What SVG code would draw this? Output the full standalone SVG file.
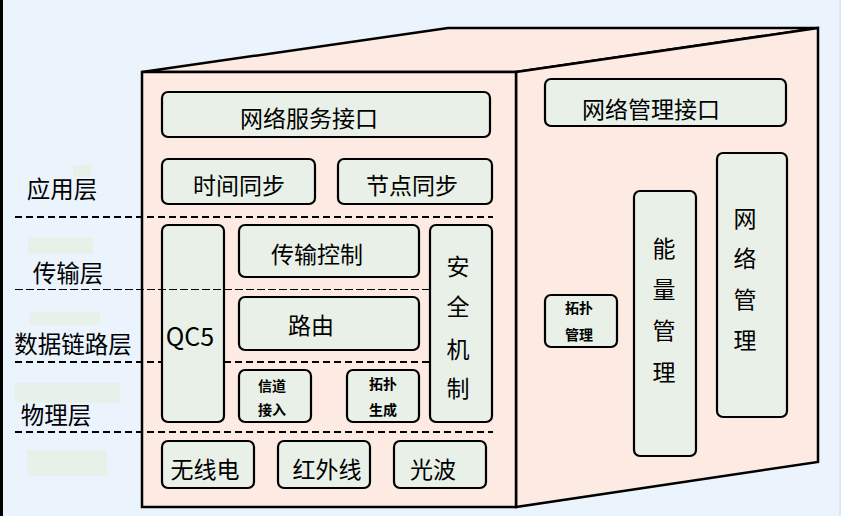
<svg xmlns="http://www.w3.org/2000/svg" width="841" height="516" viewBox="0 0 841 516">
<defs>
<style>
.bg{fill:#EBF3FD}
.face{fill:#FDEAE2;stroke:#000;stroke-width:2.5;stroke-linejoin:miter}
.box{fill:#E8F0E7;stroke:#000;stroke-width:2.2}
.t{font-family:"Noto Sans CJK SC","Microsoft YaHei",sans-serif;font-size:23px;fill:#000;text-anchor:middle;dominant-baseline:central}
.s{font-family:"Noto Sans CJK SC","Microsoft YaHei",sans-serif;font-size:14px;font-weight:bold;fill:#000;text-anchor:middle;dominant-baseline:central}
.lab{font-family:"Noto Sans CJK SC","Microsoft YaHei",sans-serif;font-size:23.5px;fill:#000;text-anchor:middle;dominant-baseline:central}
.dash{stroke:#000;stroke-width:2;stroke-dasharray:7 4;fill:none}
.thin{stroke:#000;stroke-width:1;stroke-dasharray:8 3;fill:none}
.blob{fill:#E6F1E9}
</style>
</defs>
<rect class="bg" x="0" y="0" width="841" height="516"/>
<line x1="1.5" y1="0" x2="1.5" y2="516" stroke="#000" stroke-width="3"/>
<line x1="840" y1="0" x2="840" y2="516" stroke="#D6E3F2" stroke-width="1.5"/>
<g id="blobs">
<rect class="blob" x="73" y="165" width="18" height="12"/>
<rect class="blob" x="28" y="238" width="65" height="16"/>
<rect class="blob" x="30" y="312" width="70" height="13"/>
<rect class="blob" x="15" y="383" width="105" height="20"/>
<rect class="blob" x="27" y="450" width="80" height="26"/>
</g>
<g id="cube">
<polygon class="face" points="142,72 448,28 818,28 516,72"/>
<polygon class="face" points="516,72 818,28 818,462 516,507"/>
<rect class="face" x="142" y="72" width="374" height="435"/>
</g>
<g id="connectors">
<line class="dash" x1="15" y1="217" x2="493" y2="217"/>
<line class="dash" x1="15" y1="362" x2="430" y2="362"/>
<line class="dash" x1="15" y1="432" x2="493" y2="432"/>
</g>
<g id="labels">
<text class="lab" x="62" y="188">应用层</text>
<text class="lab" x="68" y="272">传输层</text>
<text class="lab" x="73" y="343">数据链路层</text>
<text class="lab" x="56" y="414">物理层</text>
</g>
<g id="n-wlfwjk"><rect class="box" x="162" y="92" width="328" height="45" rx="6"/><text class="t" x="309" y="117">网络服务接口</text></g>
<g id="n-sjtb"><rect class="box" x="162" y="159" width="153" height="45" rx="6"/><text class="t" x="239" y="184">时间同步</text></g>
<g id="n-jdtb"><rect class="box" x="338" y="159" width="154" height="45" rx="6"/><text class="t" x="412" y="184">节点同步</text></g>
<g id="n-qc5"><rect class="box" x="162" y="225" width="62" height="197" rx="6"/><text class="t" x="190" y="335" style="font-size:25px">QC5</text></g>
<g id="n-cskz"><rect class="box" x="239" y="225" width="180" height="52" rx="6"/><text class="t" x="317" y="253">传输控制</text></g>
<g id="n-ly"><rect class="box" x="239" y="297" width="180" height="53" rx="6"/><text class="t" x="311" y="324">路由</text></g>
<g id="n-xdjr"><rect class="box" x="239" y="370" width="72" height="52" rx="6"/><text class="s" x="272" y="385">信道</text><text class="s" x="272" y="409">接入</text></g>
<g id="n-tpsc"><rect class="box" x="347" y="370" width="72" height="52" rx="6"/><text class="s" x="383" y="383">拓扑</text><text class="s" x="383" y="409">生成</text></g>
<g id="n-aqjz"><rect class="box" x="430" y="225" width="62" height="197" rx="6"/><text class="t" x="458" y="265">安</text><text class="t" x="458" y="305">全</text><text class="t" x="458" y="348">机</text><text class="t" x="458" y="387">制</text></g>
<line class="thin" x1="15" y1="289.5" x2="430" y2="289.5"/>
<g id="n-wxd"><rect class="box" x="162" y="441" width="92" height="47" rx="6"/><text class="t" x="205" y="468">无线电</text></g>
<g id="n-hwx"><rect class="box" x="278" y="441" width="92" height="47" rx="6"/><text class="t" x="327" y="468">红外线</text></g>
<g id="n-gb"><rect class="box" x="394" y="441" width="92" height="47" rx="6"/><text class="t" x="433" y="468">光波</text></g>
<g id="n-wlgljk"><rect class="box" x="545" y="79" width="241" height="47" rx="6"/><text class="t" x="651" y="108">网络管理接口</text></g>
<g id="n-tpgl"><rect class="box" x="545" y="295" width="72" height="52" rx="6"/><text class="s" x="579" y="307">拓扑</text><text class="s" x="579" y="334">管理</text></g>
<g id="n-nlgl"><rect class="box" x="634" y="191" width="62" height="265" rx="6"/><text class="t" x="664" y="247">能</text><text class="t" x="664" y="288">量</text><text class="t" x="664" y="329">管</text><text class="t" x="664" y="371">理</text></g>
<g id="n-wlgl"><rect class="box" x="717" y="153" width="70" height="264" rx="6"/><text class="t" x="745" y="217">网</text><text class="t" x="745" y="257">络</text><text class="t" x="745" y="298">管</text><text class="t" x="745" y="339">理</text></g>
</svg>
